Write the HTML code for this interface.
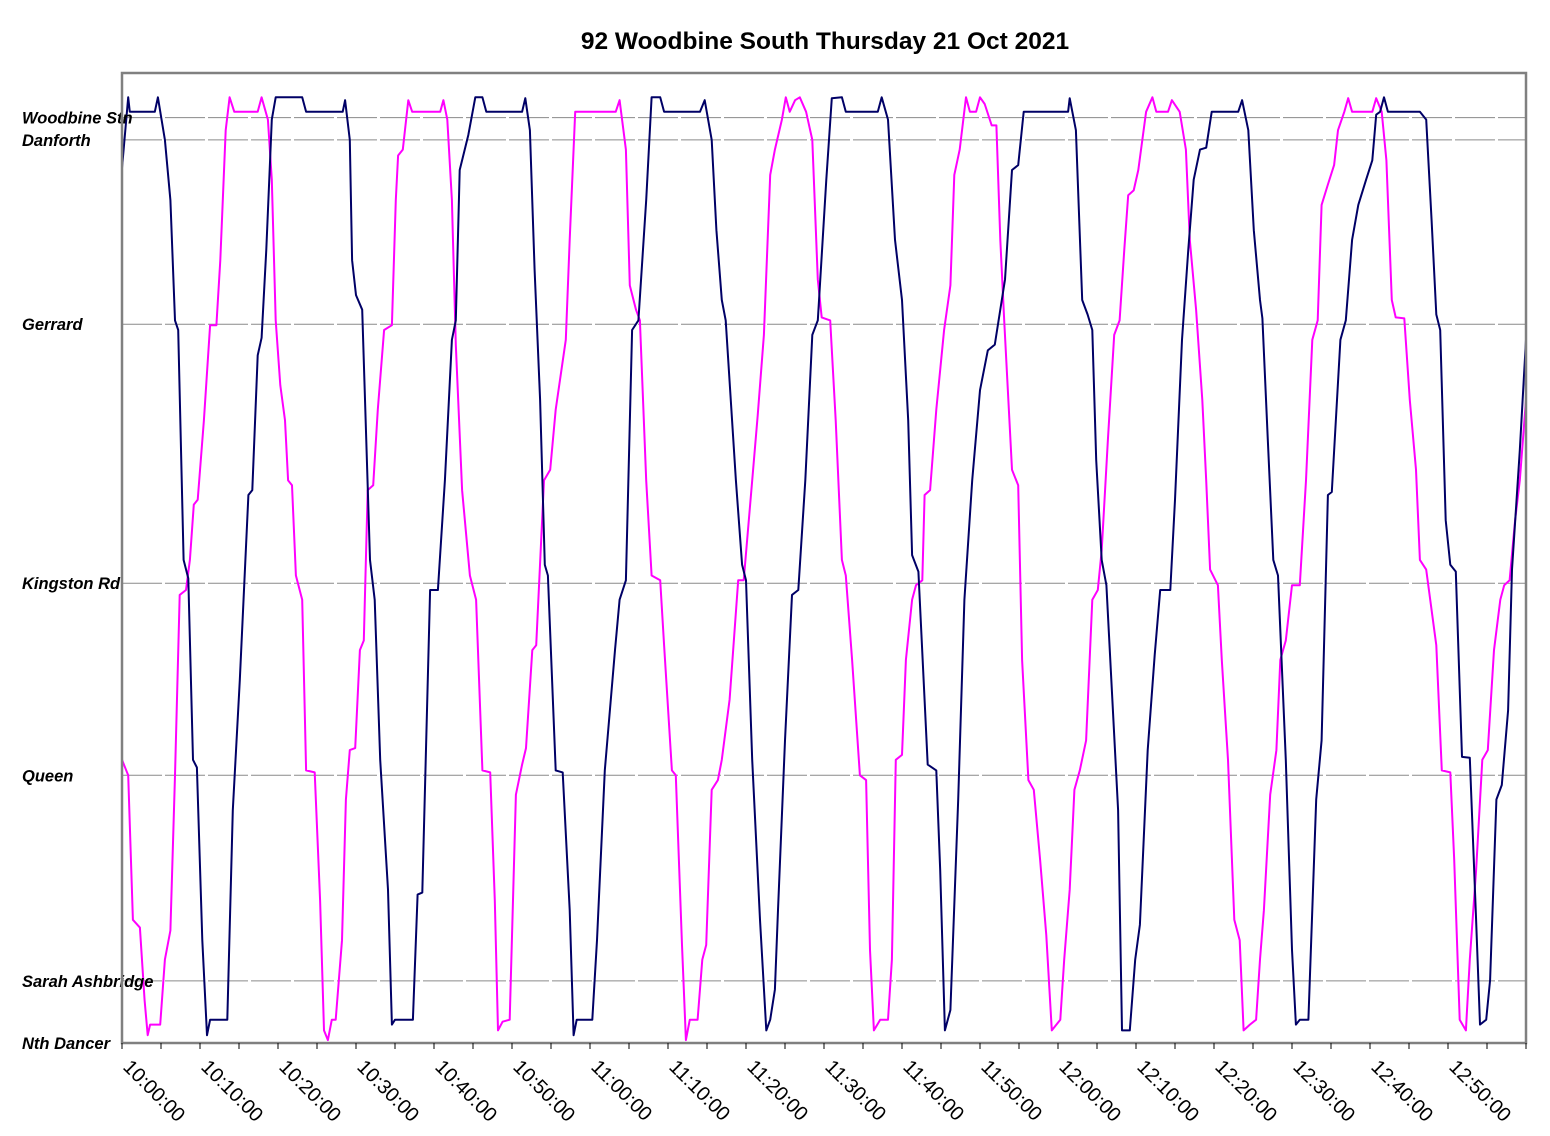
<!DOCTYPE html>
<html><head><meta charset="utf-8"><style>
body{margin:0;background:#fff;}
svg{display:block;font-family:"Liberation Sans",Arial,sans-serif;}
</style></head><body>
<svg id="chart" width="1550" height="1136" viewBox="0 0 1550 1136">
<text x="825" y="49" text-anchor="middle" font-size="24.5" font-weight="bold">92 Woodbine South Thursday 21 Oct 2021</text>
<g id="grid"></g><g id="series"></g><g id="axes"></g>
</svg>
<script>
const stationNames=["Woodbine Stn","Danforth","Gerrard","Kingston Rd","Queen","Sarah Ashbridge","Nth Dancer"];
const stationDist=[95.4,93.1,74.1,47.4,27.6,6.4,0];
const tickLabels=["10:00:00","10:10:00","10:20:00","10:30:00","10:40:00","10:50:00","11:00:00","11:10:00","11:20:00","11:30:00","11:40:00","11:50:00","12:00:00","12:10:00","12:20:00","12:30:00","12:40:00","12:50:00"];
const tickMinutes=[0,10,20,30,40,50,60,70,80,90,100,110,120,130,140,150,160,170];
const navyT=[0,0.8,1,4.2,4.6,5.5,6.2,6.8,7.2,7.9,8.5,9.1,9.6,10.3,10.9,11.3,13.5,14.2,15.1,16.2,16.7,17.4,17.9,18.5,19.2,19.7,23.1,23.6,28.3,28.6,29.2,29.5,30,30.8,31.8,32.4,33.1,34.1,34.6,35,37.3,37.9,38.5,39.5,40.5,41.4,42.3,42.8,43.3,44.4,45.3,46.2,46.7,51.3,51.7,52.3,52.9,53.6,54.2,54.6,55.6,56.5,57.4,57.9,58.3,60.3,60.9,61.9,63.2,63.8,64.6,65.4,66.2,67.2,67.9,69,69.5,74.1,74.7,75.6,76.2,76.9,77.4,78.7,79.5,80,80.8,81.8,82.6,83.1,83.7,84.1,85,85.9,86.7,87.6,88.5,89.2,90.3,91,92.3,92.8,96.9,97.4,98.2,99.1,100,100.8,101.3,102.1,103.3,104.4,104.9,105.5,106.2,107.2,108,109,110,111,111.9,113.2,114.1,114.9,115.6,121.3,121.5,122.3,123.1,123.8,124.4,124.9,125.6,126.2,127.7,128.2,129.2,129.9,130.5,131.5,132.4,133.1,134.4,135,135.9,136.7,137.4,138.2,139,139.7,143.1,143.6,144.4,145.1,145.9,146.2,146.9,147.6,148.2,149.2,150,150.5,151,152.1,153.1,153.8,154.6,155.1,156.2,156.9,157.7,158.5,159.5,160.3,160.8,161.3,161.8,162.3,166.4,167.2,167.9,168.5,169,169.7,170.3,171,171.8,172.8,173.6,174.1,174.9,175.4,176.2,176.9,177.7,178.2,179.2,180];
const navyD=[90.2,97.5,96,96,97.5,93.1,86.9,74.5,73.5,49.8,47.9,29.2,28.4,10.6,0.8,2.4,2.4,24,37.4,56.5,57,70.9,72.7,81.8,95.2,97.5,97.5,96,96,97.2,93.1,80.7,77.1,75.6,49.8,45.7,29.2,15.8,1.9,2.4,2.4,15.3,15.5,46.7,46.7,58,72.5,74.5,90,93.6,97.5,97.5,96,96,97.4,94.1,79.7,66.3,49.3,48.2,28.1,27.9,13.7,0.8,2.4,2.4,10.6,28.1,40.5,45.7,47.7,73.5,74.5,86.9,97.5,97.5,96,96,97.2,93.1,83.8,76.6,74.5,58,49.3,47.7,29.2,12.7,1.3,2.4,5.5,13.7,31.2,46.2,46.7,58,73,74.5,89,97.4,97.5,96,96,97.5,95.2,82.8,76.6,64.2,50.3,48.6,28.7,28.1,17.8,1.3,3.4,25.1,45.7,58,67.3,71.4,72,78.7,90,90.5,96,96,97.4,94.1,76.6,75.1,73.5,60.1,49.8,47.2,24,1.3,1.3,8.6,12.2,30.2,40,46.7,46.7,56,72.5,81.8,89,92.1,92.3,96,96,97.2,94.1,83.8,76.6,74.7,62.2,49.8,48.2,29.2,9.6,1.9,2.4,2.4,25.1,31.2,56.5,56.8,72.5,74.5,82.8,86.4,89,91,95.7,96,97.5,96,96,95.2,84.8,75.1,73.5,53.9,49.3,48.6,29.5,29.4,12.7,1.9,2.4,6.5,25.1,26.6,34.3,48.8,61.1,72.5];
const pinkT=[0,0.8,1.4,2.3,2.9,3.3,3.6,4.9,5.5,6.2,6.8,7.4,8.2,8.7,9.2,9.7,10.5,11.3,12.1,12.6,13.3,13.8,14.4,17.4,17.9,18.7,19.2,19.7,20.3,20.9,21.3,21.8,22.3,23.1,23.6,24.7,25.4,25.9,26.4,26.9,27.4,28.2,28.7,29.2,29.9,30.5,31,31.5,32.2,32.8,33.6,34.6,35.1,35.4,36,36.7,37.2,40.8,41.2,41.7,42.3,42.8,43.6,44.6,45.4,46.2,47.2,47.8,48.2,48.8,49.7,50.5,51.3,51.8,52.6,53.1,54.1,54.9,55.6,56.9,57.4,58.1,63.3,63.8,64.6,65.1,65.9,66.4,67.2,67.9,69,69.5,70.5,71,71.8,72.3,72.8,73.8,74.4,74.9,75.6,76.4,76.9,77.9,79,79.7,80.8,81.5,82.3,83.1,83.7,84.6,85.1,85.6,86.3,86.9,87.7,88.5,89.2,89.7,90.8,91.5,92.3,92.8,93.6,94.6,95.4,95.9,96.4,97.2,98.2,98.7,99.2,100,100.5,101.3,101.8,102.6,102.9,103.6,104.4,105.4,106.2,106.7,107.4,108.2,108.7,109.5,110,110.6,111.5,112.1,112.6,113.1,114.1,114.9,115.4,116.2,116.9,117.7,118.5,119.2,120.3,120.8,121.5,122.1,122.8,123.6,124.4,125.1,125.6,126.4,127.2,127.9,128.5,129,129.7,130.3,131.3,132.1,132.6,134.1,134.6,135.6,136.4,136.9,137.7,138.5,139,139.5,140.5,141,141.8,142.6,143.3,143.8,144.6,145.4,145.9,146.4,147.2,148,148.5,149.2,150,151,151.8,152.6,153.3,153.8,154.6,155.4,155.9,156.7,157.2,157.7,160.3,160.8,161.5,162.1,162.8,163.3,164.4,165.1,165.9,166.4,167.2,168.5,169.2,170.3,170.8,171.5,172.3,172.8,173.6,174.4,175.1,175.9,176.7,177.2,177.9,178.6,179.2,180];
const pinkD=[29.2,27.6,12.7,11.9,4.4,0.8,1.9,1.9,8.6,11.6,27.6,46.2,46.7,49.8,55.5,56,64.2,74,74,80.7,94.1,97.5,96,96,97.5,95.2,89,74.5,67.8,64.2,58,57.5,48.2,45.7,28.1,27.9,14.7,1.3,0.3,2.4,2.4,10.6,25.1,30.2,30.4,40.5,41.5,57,57.5,65.3,73.5,74,86.9,91.5,92.1,97.2,96,96,97.2,95.2,86.9,72,57,48.2,45.7,28.1,27.9,14.7,1.3,2.2,2.4,25.6,28.7,30.4,40.5,41,58,59.1,65.3,72.5,82.8,96,96,97.2,92.1,78.1,75.6,74.5,58,48.2,47.7,41,28.1,27.6,10.1,0.3,2.4,2.4,8.6,10.1,26.1,27.1,29.2,35.4,47.7,47.7,58,64.7,73,89.5,92.1,95.2,97.5,96,97.2,97.5,96,93.1,78.7,74.8,74.5,64.2,49.8,48.2,39.5,27.6,27.1,9.6,1.3,2.4,2.4,8.6,29.2,29.7,39.5,45.7,47.2,47.7,56.5,57,65.3,73.5,78.1,89.5,92.1,97.5,96,96,97.5,96.8,94.6,94.6,82.8,74.5,59.1,57.5,39.5,27.1,26.1,18.9,11.1,1.3,2.4,8.6,15.8,26.1,28.1,31.2,45.7,46.7,50.8,62.2,73,74.5,81.8,87.4,87.9,90,96,97.5,96,96,97.2,96,92.1,82.8,75.6,66.3,58,48.8,47.2,39.5,29.2,12.7,10.6,1.3,1.9,2.4,8.6,13.7,25.6,30.2,39.5,41.5,47.2,47.2,58,72.5,74.5,86.4,88.5,90.5,94.1,96,97.4,96,96,97.4,96,91,76.6,74.8,74.7,66.3,59.1,49.8,48.8,41,28.1,27.9,18.9,2.4,1.3,8.6,17.8,29.2,30.2,40.5,45.7,47.2,47.7,53.9,58,66.3];

const X0=122,X1=1526,Y0=1043,YT=73,TMAX=180,DMAX=100;
function xs(t){return X0+(X1-X0)*t/TMAX;}
function ys(d){return Y0-(Y0-YT)*d/DMAX;}
const NS='http://www.w3.org/2000/svg';
function mk(tag,attrs,parent){const e=document.createElementNS(NS,tag);for(const k in attrs)e.setAttribute(k,attrs[k]);parent.appendChild(e);return e;}
const grid=document.getElementById('grid'),series=document.getElementById('series'),axes=document.getElementById('axes');
stationNames.forEach((n,i)=>{
  const y=ys(stationDist[i]);
  if(i<stationNames.length-1){
    const l=mk('line',{x1:X0,x2:X1,y1:y,y2:y,stroke:'#8a8a8a','stroke-width':1,'stroke-dasharray':'40 3'},grid);
    
    
  }
  const t=mk('text',{x:22,y:y+6,'font-size':16.5,'font-weight':'bold','font-style':'italic'},axes);
  t.textContent=n;
  
  
});
function drawLine(T,D,color,name){
  const pts=T.map((t,i)=>xs(t).toFixed(1)+','+ys(D[i]).toFixed(1)).join(' ');
  const p=mk('polyline',{points:pts,fill:'none',stroke:color,'stroke-width':2,'stroke-linejoin':'round'},series);
  
  
}
drawLine(pinkT,pinkD,'#ff00ff','series-magenta');
drawLine(navyT,navyD,'#000066','series-navy');
const frame=mk('rect',{x:X0,y:YT,width:X1-X0,height:Y0-YT,fill:'none',stroke:'#808080','stroke-width':2.5},axes);


for(let m=0;m<=TMAX;m+=5){
  const x=xs(m);
  const tk=mk('line',{x1:x,x2:x,y1:Y0,y2:Y0+6,stroke:'#000','stroke-width':1},axes);
  
  
}
tickLabels.forEach((lab,i)=>{
  const x=xs(tickMinutes[i]);
  const t=mk('text',{x:x,y:1068,'font-size':20,transform:`rotate(45 ${x} 1068)`},axes);
  t.textContent=lab;
  
  
});
</script>
</body></html>
